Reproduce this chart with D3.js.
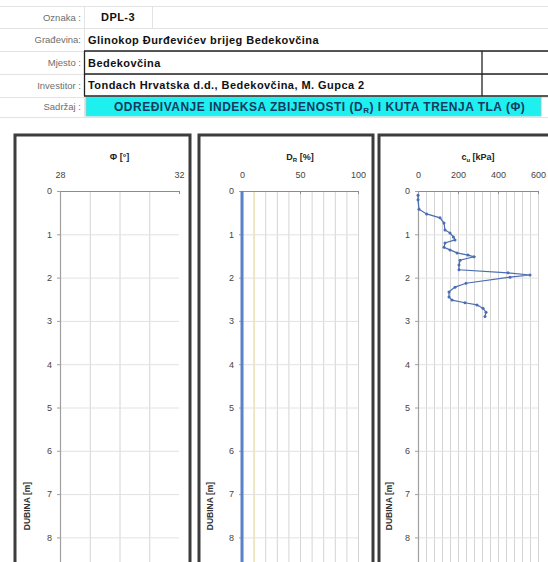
<!DOCTYPE html>
<html><head><meta charset="utf-8">
<script src="https://cdn.jsdelivr.net/npm/d3@7"></script>
<style>
html,body{margin:0;padding:0;background:#fff;}
svg{display:block;font-family:"Liberation Sans",Arial,sans-serif;}
</style></head>
<body>
<svg id="c" width="548" height="562"></svg>
<script>
// ---------- data ----------
const headerLabels = ["Oznaka :", "Građevina:", "Mjesto :", "Investitor :", "Sadržaj :"];
const headerValues = ["DPL-3", "Glinokop Đurđevićev brijeg Bedekovčina", "Bedekovčina", "Tondach Hrvatska d.d., Bedekovčina, M. Gupca 2"];
const contentTitle = "ODREĐIVANJE INDEKSA ZBIJENOSTI (D";
const contentSub = "R";
const contentTitleEnd = ") I KUTA TRENJA TLA (Φ)";

const depthTicks = [0,1,2,3,4,5,6,7,8];
const depthDomain = [0, 10];

const phiTicks = [28, 32];
const phiGrid = [29, 30, 31];
const phiDepth = [];
const phiValues = [];

const drTicks = [0, 50, 100];
const drGrid = [10,20,30,40,50,60,70,80,90,100];
const drDepth = [0,0.5,1,1.5,2,2.5,3,3.5,4,4.5,5,5.5,6,6.5,7,7.5,8,8.5,9,9.5,10];
const drValues = [0,0,0,0,0,0,0,0,0,0,0,0,0,0,0,0,0,0,0,0,0];
const drRef = 10;

const cuTicks = [0, 200, 400, 600];
const cuGrid = [40,80,120,160,200,240,280,320,360,400,440,480,520,560,600];
const cuDepth = [0.1,0.2,0.42,0.53,0.62,0.74,0.9,0.97,1.06,1.13,1.2,1.3,1.36,1.43,1.48,1.52,1.6,1.71,1.82,1.89,1.94,1.99,2.13,2.22,2.33,2.45,2.52,2.58,2.63,2.71,2.8,2.9];
const cuValues = [0,0,5,43,110,130,135,160,177,185,135,130,160,195,250,280,210,205,205,450,560,460,240,185,155,155,170,235,295,325,340,335];

// ---------- header ----------
const svg = d3.select("#c");
const rowTop = [6, 28, 51, 74, 97];
const rowH = [22, 23, 23, 22, 19];

// light spreadsheet gridlines
const hg = svg.append("g").attr("stroke", "#e3e3e3").attr("stroke-width", 1);
[6, 28, 51, 74, 97, 117].forEach(y => hg.append("line").attr("x1", 0).attr("x2", 548).attr("y1", y + 0.5).attr("y2", y + 0.5));
hg.append("line").attr("x1", 84.5).attr("x2", 84.5).attr("y1", 6).attr("y2", 117);
hg.append("line").attr("x1", 152.5).attr("x2", 152.5).attr("y1", 6).attr("y2", 28);

// cyan content box
svg.append("rect").attr("x", 86).attr("y", 97).attr("width", 455).attr("height", 19)
  .attr("fill", "#1ef0f0").attr("stroke", "#7fd0d0").attr("stroke-width", 1);

// black box for Mjesto / Investitor
const bx = svg.append("g").attr("stroke", "#222").attr("stroke-width", 1.3).attr("fill", "none");
bx.append("line").attr("x1", 84).attr("x2", 548).attr("y1", 51).attr("y2", 51);
bx.append("line").attr("x1", 84).attr("x2", 548).attr("y1", 74).attr("y2", 74);
bx.append("line").attr("x1", 84).attr("x2", 548).attr("y1", 96).attr("y2", 96);
bx.append("line").attr("x1", 84.5).attr("x2", 84.5).attr("y1", 51).attr("y2", 96);
bx.append("line").attr("x1", 482).attr("x2", 482).attr("y1", 51).attr("y2", 96);

headerLabels.forEach((t, i) => {
  svg.append("text").attr("x", 81).attr("y", rowTop[i] + rowH[i] / 2 + 3.5)
    .attr("text-anchor", "end").attr("font-size", 9.5).attr("fill", "#6e6e6e").text(t);
});
headerValues.forEach((t, i) => {
  svg.append("text").attr("x", i === 0 ? 101 : 88).attr("y", rowTop[i] + rowH[i] / 2 + 4)
    .attr("font-size", 11).attr("font-weight", "bold").attr("letter-spacing", 0.45)
    .attr("fill", "#111").text(t);
});
const tt = svg.append("text").attr("x", 114).attr("y", 111).attr("font-size", 12)
  .attr("font-weight", "bold").attr("letter-spacing", 0.5).attr("fill", "#15395f");
tt.append("tspan").text(contentTitle);
tt.append("tspan").attr("font-size", 8).attr("dy", 2).text(contentSub);
tt.append("tspan").attr("dy", -2).text(contentTitleEnd);

// ---------- panels ----------
const yTop = 191, pxPerM = 43.3;
const y = d3.scaleLinear().domain(depthDomain).range([yTop, yTop + pxPerM * (depthDomain[1] - depthDomain[0])]);

const panels = [
  {frame: [15, 190], plot: [60, 179], domain: [28, 32], ticks: phiTicks, grid: phiGrid,
   title: ["Φ [°]"], depth: phiDepth, values: phiValues, ylab: 30},
  {frame: [199, 373], plot: [242, 358], domain: [0, 100], ticks: drTicks, grid: drGrid,
   title: ["D", "R", " [%]"], depth: drDepth, values: drValues, ylab: 213, ref: drRef},
  {frame: [379, 570], plot: [418, 538], domain: [0, 600], ticks: cuTicks, grid: cuGrid,
   title: ["c", "u", " [kPa]"], depth: cuDepth, values: cuValues, ylab: 392, markers: true}
];

panels.forEach(p => {
  const g = svg.append("g");
  const x = d3.scaleLinear().domain(p.domain).range(p.plot);
  const yBottom = y.range()[1];

  // frame
  g.append("rect").attr("x", p.frame[0]).attr("y", 135).attr("width", p.frame[1] - p.frame[0])
    .attr("height", 600).attr("fill", "#fff").attr("stroke", "#3c3c3c").attr("stroke-width", 3);

  // vertical gridlines
  g.append("g").selectAll("line").data(p.grid).join("line")
    .attr("x1", d => x(d) + 0.5).attr("x2", d => x(d) + 0.5)
    .attr("y1", yTop).attr("y2", yBottom)
    .attr("stroke", "#d4d4d4").attr("stroke-width", 1);
  if (p.ref !== undefined) {
    g.append("line").attr("x1", x(p.ref) + 0.5).attr("x2", x(p.ref) + 0.5)
      .attr("y1", yTop).attr("y2", yBottom).attr("stroke", "#f2e4b0").attr("stroke-width", 1.2);
  }
  // horizontal gridlines
  g.append("g").selectAll("line").data(depthTicks.slice(1)).join("line")
    .attr("x1", p.plot[0]).attr("x2", p.plot[1])
    .attr("y1", d => y(d) + 0.5).attr("y2", d => y(d) + 0.5)
    .attr("stroke", "#e2e2e2").attr("stroke-width", 1);

  // top axis
  const ax = g.append("g").attr("transform", `translate(0,${yTop})`)
    .call(d3.axisTop(x).tickValues(p.ticks).tickSizeInner(-3).tickSizeOuter(0).tickPadding(13)
      .tickFormat(d3.format("d")));
  ax.select(".domain").attr("stroke", "#8c8c8c").attr("stroke-width", 1.2);
  ax.selectAll(".tick line").attr("stroke", "#8c8c8c");
  ax.selectAll("text").attr("font-size", 9).attr("fill", "#444").attr("font-family", "Liberation Sans Narrow, Liberation Sans, sans-serif");

  // left axis
  const ay = g.append("g").attr("transform", `translate(${p.plot[0]},0)`)
    .call(d3.axisLeft(y).tickValues(depthTicks).tickSizeInner(3).tickSizeOuter(0).tickPadding(5)
      .tickFormat(d3.format("d")));
  ay.select(".domain").attr("stroke", "#a0a0a0").attr("stroke-width", 1.2);
  ay.selectAll(".tick line").attr("stroke", "#a0a0a0");
  ay.selectAll("text").attr("font-size", 9).attr("fill", "#444").attr("font-family", "Liberation Sans Narrow, Liberation Sans, sans-serif");

  // title
  const t = g.append("text").attr("x", (p.plot[0] + p.plot[1]) / 2).attr("y", 160)
    .attr("text-anchor", "middle").attr("font-size", 9).attr("font-weight", "bold").attr("fill", "#222");
  t.append("tspan").text(p.title[0]);
  if (p.title.length > 1) {
    t.append("tspan").attr("font-size", 6).attr("dy", 2).text(p.title[1]);
    t.append("tspan").attr("dy", -2).text(p.title[2]);
  }

  // y label
  g.append("text").attr("transform", `translate(${p.ylab},506) rotate(-90)`)
    .attr("text-anchor", "middle").attr("font-size", 8.5).attr("font-weight", "bold").attr("fill", "#333")
    .text("DUBINA [m]");

  // series
  if (p.values.length) {
    const pts = p.depth.map((d, i) => [p.values[i], d]);
    const line = d3.line().x(d => x(d[0])).y(d => y(d[1]));
    g.append("path").datum(pts).attr("d", line).attr("fill", "none")
      .attr("stroke", p.markers ? "#4a6db3" : "#5b82c8")
      .attr("stroke-width", p.markers ? 1.2 : 3);
    if (p.markers) {
      g.append("g").selectAll("circle").data(pts).join("circle")
        .attr("cx", d => x(d[0])).attr("cy", d => y(d[1])).attr("r", 1.5)
        .attr("fill", "#4a6db3");
    }
  }
});
</script>
</body></html>
